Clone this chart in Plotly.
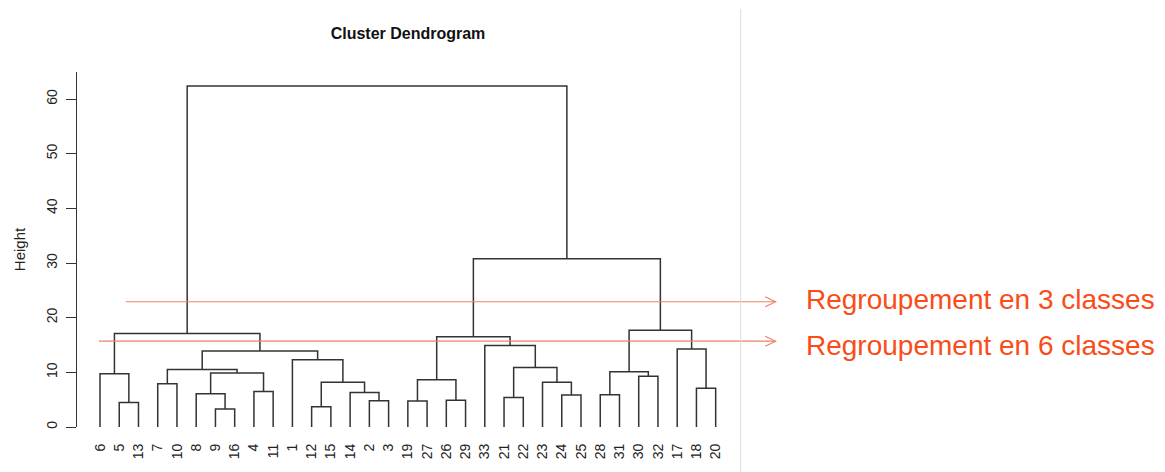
import plotly.graph_objects as go

# ---------------- data ----------------
leaf_order = [6, 5, 13, 7, 10, 8, 9, 16, 4, 11, 1, 12, 15, 14, 2, 3,
              19, 27, 26, 29, 33, 21, 22, 23, 24, 25, 28, 31, 30, 32, 17, 18, 20]

# R-style merge matrix: negative = leaf label, positive = earlier merge step (1-based)
merge_a = [-9, -12, -5, -19, -2, -26, -21, -24, -28, -8, -14, -4, -18, -7, 2, -23,
           4, -30, -6, 10, 9, 14, 7, -1, 22, -17, -33, 17, 19, 21, 28, 29]
merge_b = [-16, -15, -13, -27, -3, -29, -22, -25, -31, 1, 5, -11, -20, -10, 11, 8,
           6, -32, 3, 12, 18, 20, 16, 15, 24, 13, 23, 27, 25, 26, 30, 31]
merge_h = [3.3, 3.7, 4.5, 4.75, 4.8, 4.9, 5.4, 5.85, 5.9, 6.1, 6.3, 6.5, 7.07, 7.9, 8.2, 8.2,
           8.66, 9.27, 9.76, 9.9, 10.1, 10.5, 10.9, 12.3, 13.9, 14.27, 14.9, 16.5, 17.1, 17.7,
           30.8, 62.4]

y_ticks = [0, 10, 20, 30, 40, 50, 60]
cut_heights = [22.9, 15.7]
cut_labels = ["Regroupement en 3 classes", "Regroupement en 6 classes"]

# ---------------- build dendrogram segments ----------------
leaf_pos = {lab: i for i, lab in enumerate(leaf_order)}
node_x, node_h = [], []


def pos(ref):
    if ref < 0:
        return leaf_pos[-ref], 0.0
    return node_x[ref - 1], node_h[ref - 1]


xs, ys = [], []
for a, b, h in zip(merge_a, merge_b, merge_h):
    xa, ha = pos(a)
    xb, hb = pos(b)
    xs += [xa, xa, xb, xb, None]
    ys += [ha, h, h, hb, None]
    node_x.append((xa + xb) / 2)
    node_h.append(h)

# ---------------- figure ----------------
W, H = 1165, 472
ML, MR, MT, MB = 77, 375, 72, 45
PW, PH = W - ML - MR, H - MT - MB
leaf_px0, leaf_step = 100, 19.24
x_lo = -(leaf_px0 - ML) / leaf_step
x_hi = x_lo + PW / leaf_step
y_top = 64.94


def px_x(px):
    return (px - ML) / PW


def px_y(py):
    return (H - MB - py) / PH


fig = go.Figure()
fig.add_trace(go.Scatter(x=xs, y=ys, mode="lines",
                         line=dict(color="#333333", width=1.5),
                         hoverinfo="skip", showlegend=False, cliponaxis=False))

line_col = "#EE8066"
text_col = "#FA4C18"
line_starts = [125.7, 99]
text_mid = [299, 345]
tip_px = 775.7
for h, lab, x0, tm in zip(cut_heights, cut_labels, line_starts, text_mid):
    fig.add_shape(type="line", xref="paper", yref="y", x0=px_x(x0), x1=px_x(tip_px),
                  y0=h, y1=h, line=dict(color=line_col, width=1.1))
    fig.add_shape(type="path", xref="paper", yref="y", xsizemode="pixel", ysizemode="pixel",
                  xanchor=px_x(tip_px), yanchor=h,
                  path="M -10.5,5 L 0,0 L -10.5,-5",
                  line=dict(color=line_col, width=1.1))
    fig.add_annotation(text=lab, xref="paper", yref="paper", x=px_x(804), y=px_y(tm),
                       xanchor="left", yanchor="middle", showarrow=False,
                       font=dict(family="Liberation Sans, Arial", size=28, color=text_col))

# light vertical separator
fig.add_shape(type="line", xref="paper", yref="paper", x0=px_x(740.7), x1=px_x(740.7),
              y0=px_y(472), y1=px_y(9), line=dict(color="#dcdcdc", width=1))

fig.update_layout(
    width=W, height=H,
    margin=dict(l=ML, r=MR, t=MT, b=MB, pad=0),
    plot_bgcolor="white", paper_bgcolor="white",
    font=dict(family="Liberation Sans, Arial", color="#222222"),
    title=dict(text="<b>Cluster Dendrogram</b>", x=408 / W, xref="container", xanchor="center",
               y=1 - 33 / H, yref="container", yanchor="middle",
               font=dict(size=16, color="#111111")),
    showlegend=False,
)
fig.update_xaxes(range=[x_lo, x_hi], tickmode="array",
                 tickvals=list(range(len(leaf_order))),
                 ticktext=[str(v) for v in leaf_order],
                 tickangle=-90, ticks="", showline=False, showgrid=False, zeroline=False,
                 tickfont=dict(size=14, color="#222222"), ticklabelstandoff=13)
fig.update_yaxes(range=[0, y_top], tickmode="array", tickvals=y_ticks,
                 ticktext=[str(v) for v in y_ticks],
                 ticks="outside", ticklen=10, tickwidth=1.2, tickcolor="#333333",
                 showline=True, linecolor="#333333", linewidth=1.4,
                 showgrid=False, zeroline=False, tickangle=-90,
                 tickfont=dict(size=14, color="#222222"), ticklabelstandoff=3,
                 title=dict(text="Height", font=dict(size=15, color="#222222"), standoff=14))

fig.write_html("out.html")
